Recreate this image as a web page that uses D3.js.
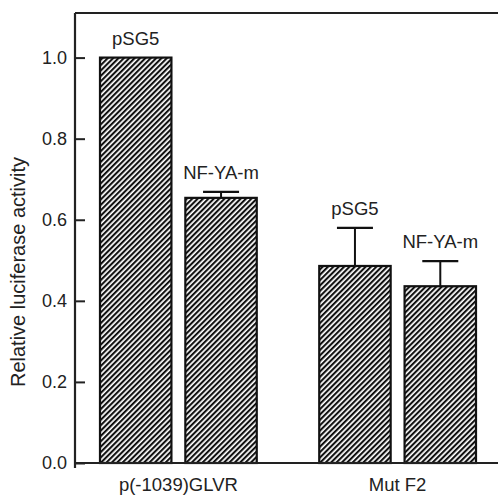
<!DOCTYPE html>
<html>
<head>
<meta charset="utf-8">
<script src="https://cdn.jsdelivr.net/npm/d3@7"></script>
<style>
  body { margin: 0; background: #fff; }
  text { font-family: "Liberation Sans", Arial, sans-serif; fill: #222; }
</style>
</head>
<body>
<svg id="chart" width="498" height="495"></svg>
<script>
// data
const groups = ["p(-1039)GLVR", "Mut F2"];
const constructs = ["pSG5", "NF-YA-m"];
const means = [[1.0, 0.654], [0.486, 0.436]];
const errors = [[0, 0.015], [0.094, 0.062]];
const yTicks = [0, 0.2, 0.4, 0.6, 0.8, 1.0];

const svg = d3.select("#chart");
const padL = 75, padR = 498, padT = 13, padB = 463;

const y = d3.scaleLinear().domain([0, 1.11]).range([padB, padT]);
const x0 = d3.scaleBand().domain(groups).range([100, 476]).paddingInner(0.285);
const x1 = d3.scaleBand().domain(constructs).range([0, x0.bandwidth()]).paddingInner(0.163);

// hatch fill
svg.append("defs").append("pattern")
  .attr("id", "hatch")
  .attr("patternUnits", "userSpaceOnUse")
  .attr("width", 3.8).attr("height", 3.8)
  .attr("patternTransform", "rotate(45)")
  .call(p => {
    p.append("rect").attr("width", 3.8).attr("height", 3.8).attr("fill", "#fff");
    p.append("rect").attr("width", 2.1).attr("height", 3.8).attr("fill", "#111");
  });

const rows = [];
groups.forEach((g, i) => constructs.forEach((c, j) => {
  rows.push({ g, c, v: means[i][j], e: errors[i][j] });
}));

const bars = svg.append("g").selectAll("g").data(rows).join("g")
  .attr("transform", d => `translate(${x0(d.g) + x1(d.c)},0)`);

bars.append("rect")
  .attr("x", 0)
  .attr("y", d => y(d.v))
  .attr("width", x1.bandwidth())
  .attr("height", d => y(0) - y(d.v))
  .attr("fill", "url(#hatch)")
  .attr("stroke", "#111")
  .attr("stroke-width", 2.2);

const bw = x1.bandwidth();
const eb = bars.filter(d => d.e > 0);
eb.append("line")
  .attr("x1", bw / 2).attr("x2", bw / 2)
  .attr("y1", d => y(d.v)).attr("y2", d => y(d.v + d.e))
  .attr("stroke", "#111").attr("stroke-width", 2);
eb.append("line")
  .attr("x1", bw / 2 - 18).attr("x2", bw / 2 + 18)
  .attr("y1", d => y(d.v + d.e)).attr("y2", d => y(d.v + d.e))
  .attr("stroke", "#111").attr("stroke-width", 2.2);

bars.append("text")
  .attr("x", bw / 2)
  .attr("y", d => y(d.v + d.e) - 13)
  .attr("text-anchor", "middle")
  .style("font-size", "18.5px")
  .text(d => d.c);

// axes
const yAxis = svg.append("g")
  .attr("transform", `translate(${padL},0)`)
  .call(d3.axisLeft(y).tickValues(yTicks).tickFormat(d3.format(".1f"))
    .tickSize(-10).tickPadding(8));
yAxis.select(".domain").remove();
yAxis.selectAll(".tick line").attr("stroke", "#222").attr("stroke-width", 2);
yAxis.selectAll(".tick text").style("font-size", "18px").attr("fill", "#222");

svg.append("line").attr("x1", padL).attr("x2", padL).attr("y1", padT).attr("y2", padB + 5)
  .attr("stroke", "#222").attr("stroke-width", 2.2);
svg.append("line").attr("x1", padL).attr("x2", padR).attr("y1", padT).attr("y2", padT)
  .attr("stroke", "#222").attr("stroke-width", 2.2);
svg.append("line").attr("x1", padL).attr("x2", padR).attr("y1", padB).attr("y2", padB)
  .attr("stroke", "#222").attr("stroke-width", 2.2);

svg.append("g").selectAll("text").data(groups).join("text")
  .attr("x", d => x0(d) + x0.bandwidth() / 2)
  .attr("y", 491)
  .attr("text-anchor", "middle")
  .style("font-size", "18.5px")
  .text(d => d);

svg.append("text")
  .attr("transform", `translate(25,272) rotate(-90)`)
  .attr("text-anchor", "middle")
  .style("font-size", "20px")
  .text("Relative luciferase activity");
</script>
</body>
</html>
